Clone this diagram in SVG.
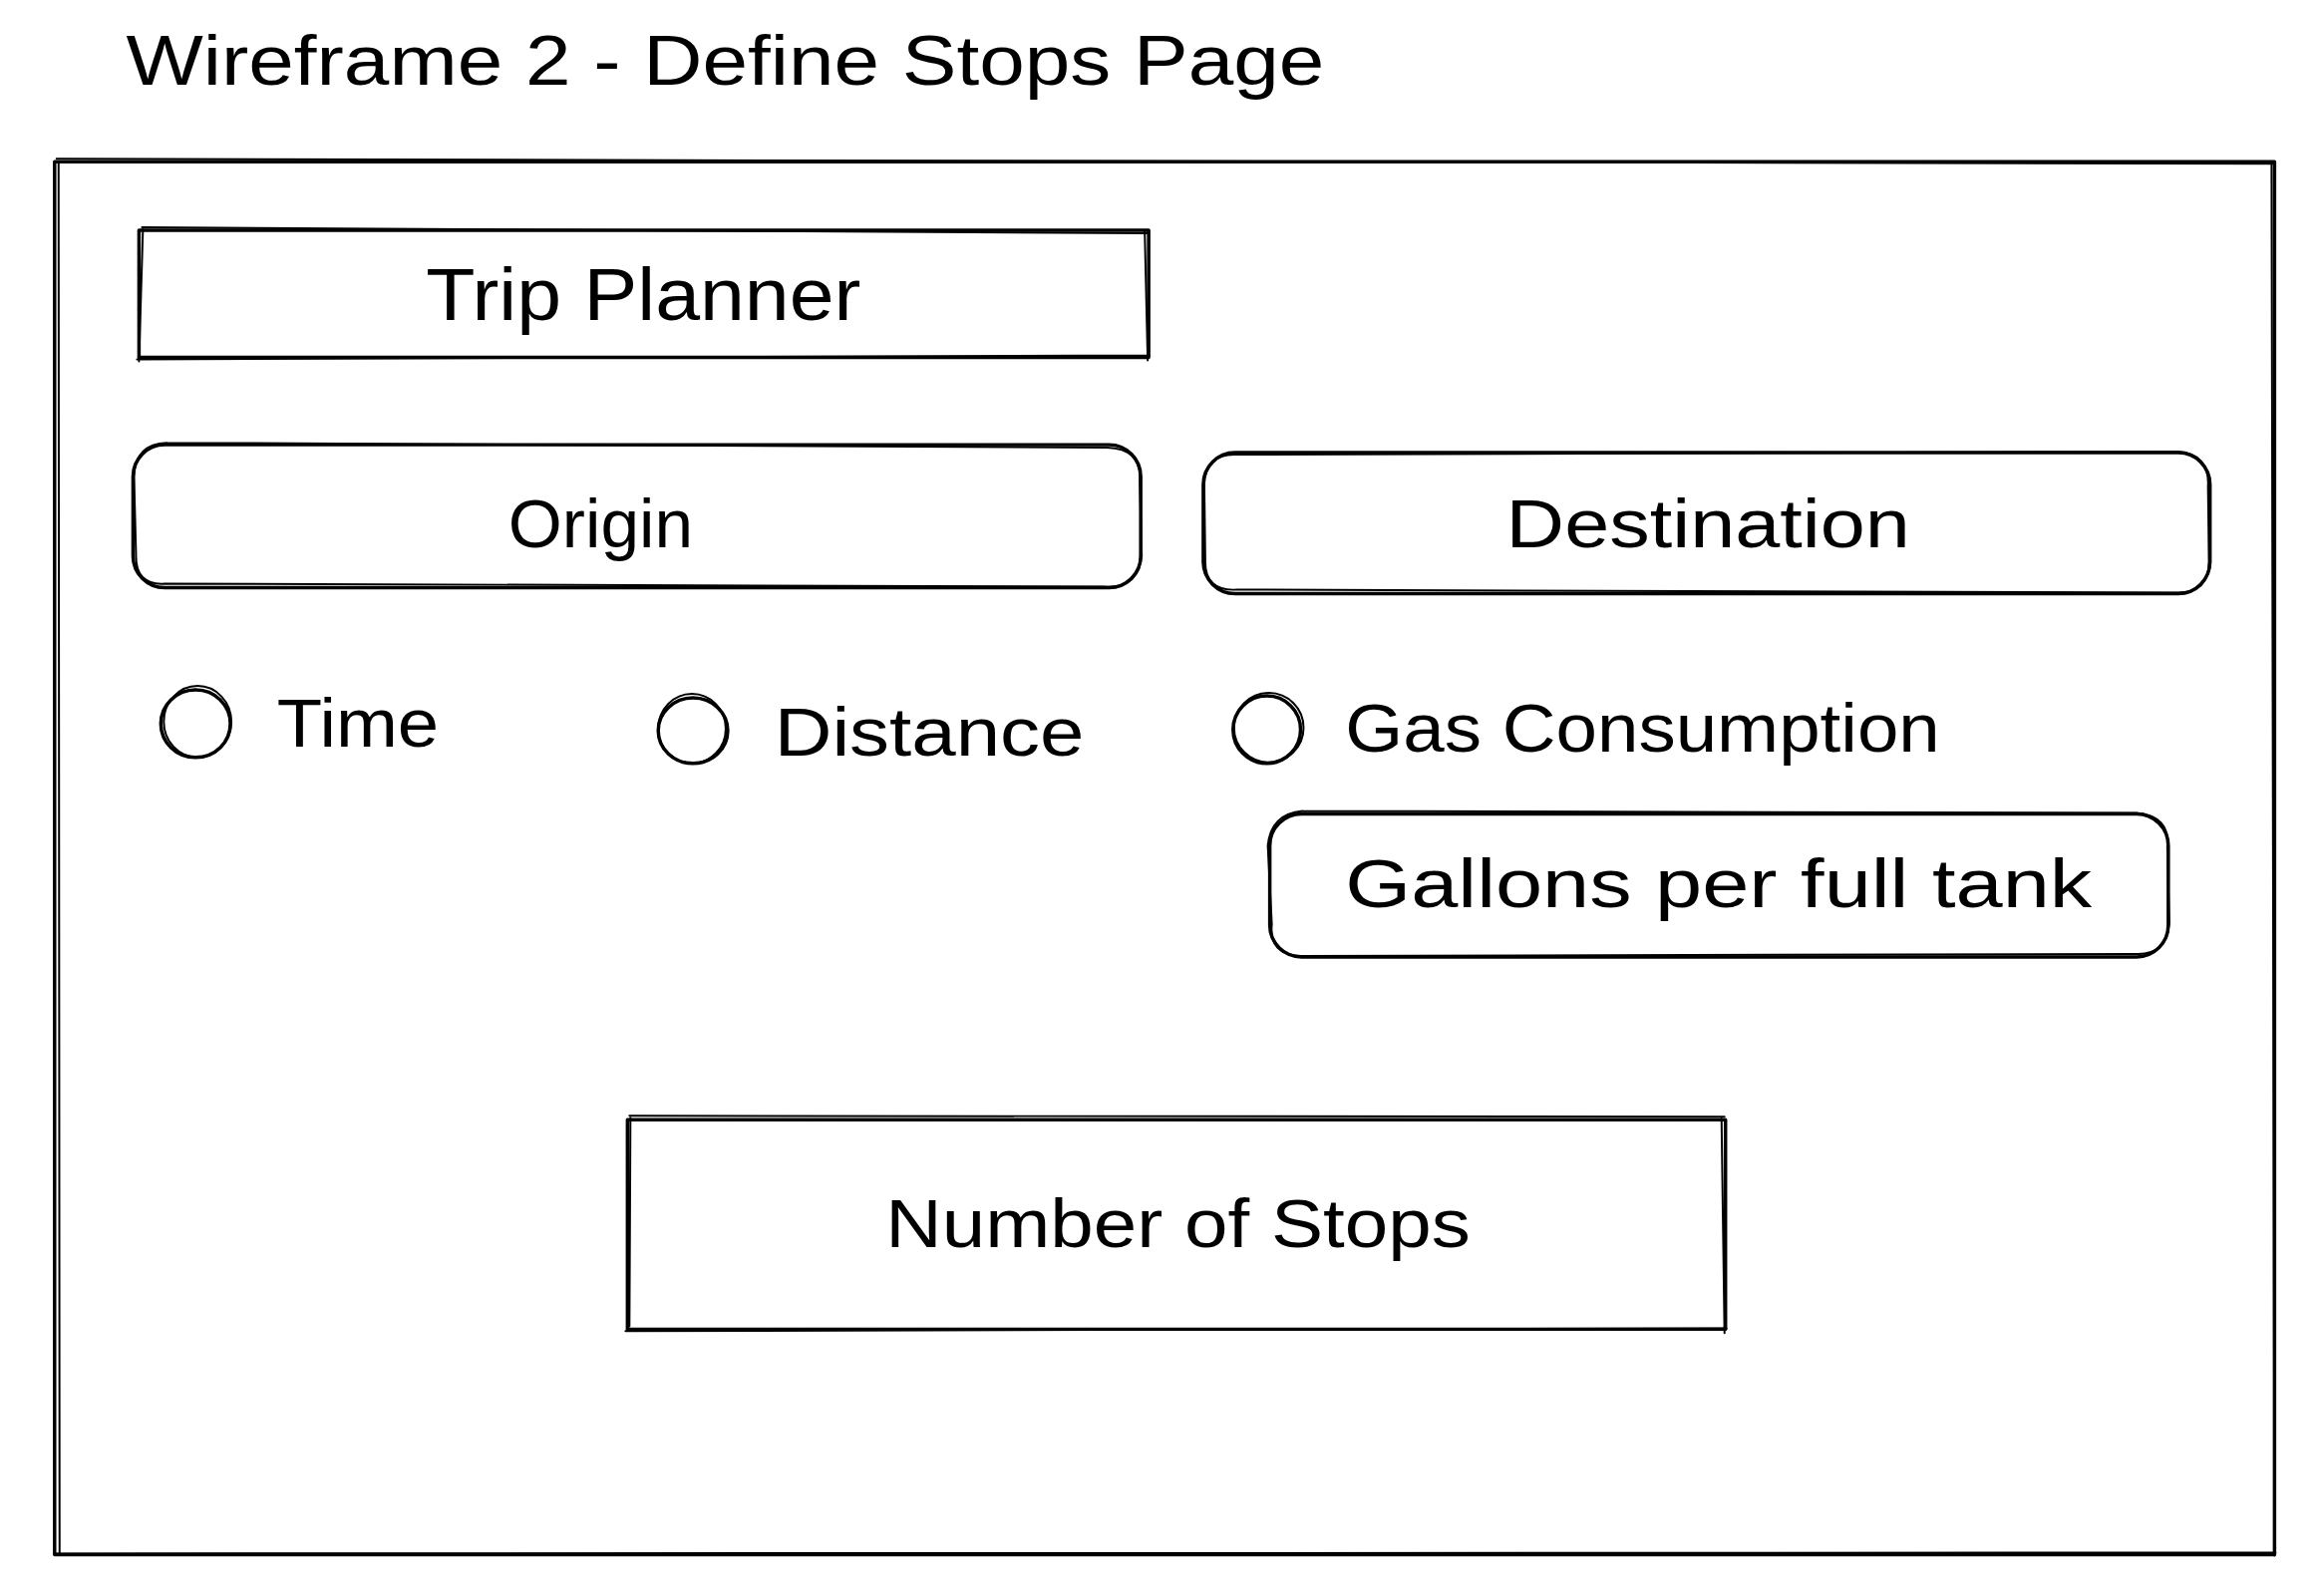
<svg xmlns="http://www.w3.org/2000/svg" width="2331" height="1596" viewBox="0 0 2331 1596">
<style>
.bg{fill:#ffffff}
.s{fill:none;stroke:#000;stroke-width:3.5;stroke-linecap:round;stroke-linejoin:round}
.s2{fill:none;stroke:#000;stroke-width:2;stroke-linecap:round;stroke-linejoin:round}
.t{font-family:"Liberation Sans","DejaVu Sans",sans-serif;fill:#000}
</style>
<rect class="bg" x="0" y="0" width="2331" height="1596"/>
<g transform="scale(0.9958)">
<g id="title">
<text class="t" x="127" y="85" font-size="70" textLength="1207" lengthAdjust="spacingAndGlyphs">Wireframe 2 - Define Stops Page</text>
</g>
<g id="frame">
<rect class="s" x="55" y="163" width="2236" height="1403"/>
<path class="s2" d="M57 160 L2290 165 M59 165 L60 1564 M2288 163 L2291 1567 M54 1565 L2292 1564"/>
</g>
<g id="trip-planner">
<rect class="s" x="140" y="232" width="1017" height="128"/>
<path class="s2" d="M143 229 L1157 235 M138 362 L1155 358 M144 230 L140 364 M1153 232 L1156 363"/>
<text class="t" x="429" y="322" font-size="74" textLength="438" lengthAdjust="spacingAndGlyphs">Trip Planner</text>
</g>
<g id="origin">
<rect class="s" x="134" y="448" width="1015" height="144" rx="32"/>
<path class="s2" d="M168 446 L1115 451 Q1150 452 1148 484 L1150 560 Q1146 594 1112 591 L166 588 Q136 590 137 558 L135 480 Q136 447 168 446"/>
<text class="t" x="512" y="551" font-size="68" textLength="186" lengthAdjust="spacingAndGlyphs">Origin</text>
</g>
<g id="destination">
<rect class="s" x="1212" y="456" width="1014" height="142" rx="32"/>
<path class="s2" d="M1245 458 L2193 455 Q2226 457 2224 490 L2225 566 Q2225 598 2192 597 L1246 594 Q1213 596 1214 564 L1213 488 Q1214 457 1245 458"/>
<text class="t" x="1517" y="551" font-size="68" textLength="407" lengthAdjust="spacingAndGlyphs">Destination</text>
</g>
<g id="radio-time">
<ellipse class="s" cx="197" cy="729" rx="35" ry="34"/>
<ellipse class="s2" cx="199" cy="727" rx="34" ry="36"/>
<text class="t" x="279" y="752" font-size="68" textLength="163" lengthAdjust="spacingAndGlyphs">Time</text>
</g>
<g id="radio-distance">
<ellipse class="s" cx="698" cy="736" rx="35" ry="33"/>
<ellipse class="s2" cx="697" cy="734" rx="34" ry="35"/>
<text class="t" x="780" y="761" font-size="68" textLength="312" lengthAdjust="spacingAndGlyphs">Distance</text>
</g>
<g id="radio-gas">
<ellipse class="s" cx="1276" cy="735" rx="34" ry="34"/>
<ellipse class="s2" cx="1278" cy="733" rx="35" ry="35"/>
<text class="t" x="1355" y="757" font-size="68" textLength="599" lengthAdjust="spacingAndGlyphs">Gas Consumption</text>
</g>
<g id="gallons">
<rect class="s" x="1279" y="820" width="905" height="144" rx="32"/>
<path class="s2" d="M1312 817 L2152 819 Q2186 822 2183 853 L2185 930 Q2182 963 2150 961 L1310 963 Q1278 962 1281 931 L1277 852 Q1280 820 1312 817"/>
<text class="t" x="1355" y="914" font-size="68" textLength="752" lengthAdjust="spacingAndGlyphs">Gallons per full tank</text>
</g>
<g id="number-of-stops">
<rect class="s" x="632" y="1128" width="1106" height="211"/>
<path class="s2" d="M634 1124 L1737 1125 M630 1341 L1739 1338 M635 1126 L634 1336 M1734 1127 L1737 1343"/>
<text class="t" x="892" y="1256" font-size="68" textLength="589" lengthAdjust="spacingAndGlyphs">Number of Stops</text>
</g>
<g id="connectors"></g>
</g>
</svg>
